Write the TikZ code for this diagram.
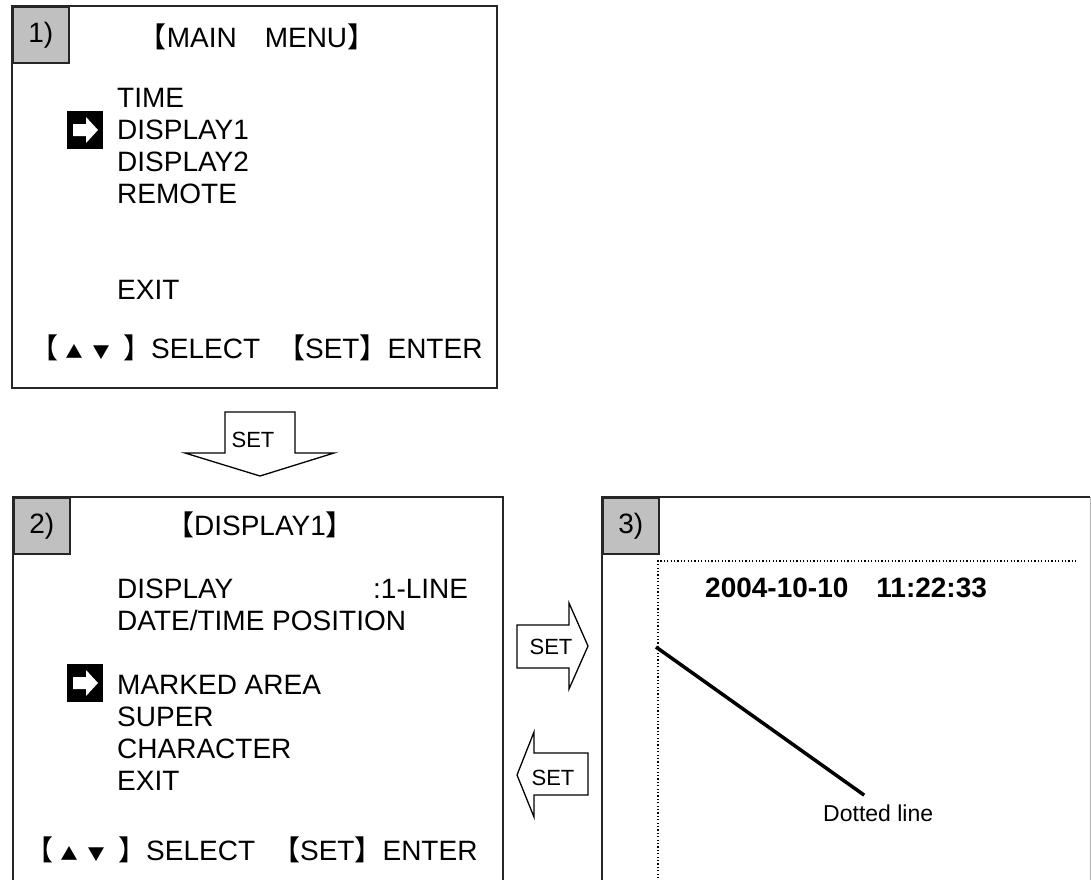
\documentclass[tikz,border=0pt]{standalone}
\usepackage{fontspec}
\setmainfont{Liberation Sans}
\newfontfamily\cjk{Noto Sans CJK SC}
\usetikzlibrary{positioning}
\definecolor{tabgray}{HTML}{C0C0C0}
\newcommand{\lbk}{{\cjk 【}}
\newcommand{\rbk}{{\cjk 】}}
\newcommand{\zsp}{{\cjk 　}}
\newcommand{\keyhelp}{\lbk\hspace{7.5pt}{\fontsize{17}{17}\cjk ▲}\hspace{10pt}{\fontsize{17}{17}\cjk ▼}\hspace{13.5pt}\rbk SELECT\hspace{17pt}\lbk SET\rbk ENTER}
% black box with white arrow, marks the chosen menu line
\newcommand{\menuptr}[1]{%
  \begin{scope}[shift={#1}]
    \fill (-18,-19) rectangle (18,19);
    \fill[white] (-12,-6) -- (1,-6) -- (1,-13) -- (13,0) -- (1,13) -- (1,6) -- (-12,6) -- cycle;
  \end{scope}}

\begin{document}
\begin{tikzpicture}[
  x=1pt, y=1pt,
  frame/.style={line width=1.6pt, draw=black!85},
  tab/.style={draw=black!85, line width=1.6pt, fill=tabgray, minimum width=56pt,
              minimum height=56pt, inner sep=0pt, anchor=north west, font=\fontsize{28}{32}\selectfont},
  item/.style={anchor=base west, inner sep=0pt, font=\fontsize{28}{32}\selectfont},
  title/.style={anchor=base, inner sep=0pt, font=\fontsize{28}{32}\selectfont},
  blockarrow/.style={draw, line width=1.3pt, fill=white, line join=miter},
  setlbl/.style={inner sep=0pt, font=\fontsize{22}{24}\selectfont},
  dotbox/.style={line width=1.1pt, dash pattern=on 1.2pt off 2.2pt}
]
  \useasboundingbox (0,0) rectangle (1091,-879);

  % Screen 1: main menu
  \draw[frame] (12,-6) rectangle (497,-388);
  \node[tab] (tab1) at (12,-6) {1)};
  \node[title] (main) at (257,-47) {\lbk MAIN\zsp MENU\rbk};
  \foreach \txt [count=\i] in {TIME,DISPLAY1,DISPLAY2,REMOTE}
    \node[item] (m\i) at (117,{-107-32*(\i-1)}) {\txt};
  \menuptr{(85,-130)}
  \node[item] (exit1) at (117,-299) {EXIT};
  \node[item] (keys1) at (30,-358) {\keyhelp};

  % SET, down to screen 2
  \draw[blockarrow] (225,-412) -- (295,-412) -- (295,-453) -- (334,-453) -- (260,-476)
    -- (185,-453) -- (225,-453) -- cycle;
  \node[setlbl] (setdown) at (253,-440) {SET};

  % Screen 2: DISPLAY1 menu
  \draw[frame] (13,-885) -- (13,-497) -- (503,-497) -- (503,-885);
  \node[tab] (tab2) at (13,-497) {2)};
  \node[title] (disp) at (260,-535) {\lbk DISPLAY1\rbk};
  \node[item] (d1) at (117,-598) {DISPLAY};
  \node[item] (d1val) at (373,-598) {:1-LINE};
  \node[item] (d2) at (117,-630) {DATE/TIME POSITION};
  \foreach \txt [count=\i] in {MARKED AREA,SUPER,CHARACTER,EXIT}
    \node[item] (s\i) at (117,{-694-32*(\i-1)}) {\txt};
  \menuptr{(85,-683)}
  \node[item] (keys2) at (25,-860) {\keyhelp};

  % SET, across to screen 3 and back
  \draw[blockarrow] (517,-625) -- (569,-625) -- (569,-603) -- (588,-646) -- (569,-689)
    -- (569,-668) -- (517,-668) -- cycle;
  \node[setlbl] (setright) at (551,-647) {SET};
  \draw[blockarrow] (588,-753) -- (534,-753) -- (534,-732) -- (517,-775) -- (534,-817)
    -- (534,-795) -- (588,-795) -- cycle;
  \node[setlbl] (setleft) at (553,-778) {SET};

  % Screen 3: picture with marked area
  \draw[frame] (602,-885) -- (602,-497) -- (1090,-497);
  \draw[gray!60, line width=1pt] (1090,-497) -- (1090,-885);
  \node[tab] (tab3) at (602,-497) {3)};
  \draw[dotbox] (658,-885) -- (658,-561) -- (1078,-561);
  \node[item, font=\bfseries\fontsize{28}{32}\selectfont] (stamp) at (705,-597) {2004-10-10\zsp 11:22:33};
  \coordinate (dotpt) at (656,-647);
  \node[item, font=\fontsize{23}{26}\selectfont] (dotlbl) at (823,-821) {Dotted line};
  \draw[line width=3.5pt] (dotpt) -- ([shift={(-14,9)}]dotlbl.north);
\end{tikzpicture}
\end{document}
